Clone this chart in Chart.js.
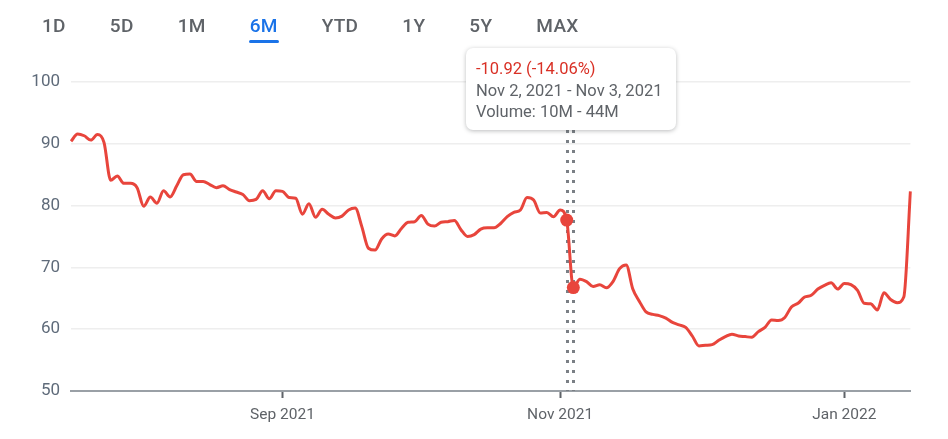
<!DOCTYPE html>
<html>
<head>
<meta charset="utf-8">
<script src="https://cdn.jsdelivr.net/npm/chart.js@4.4.0/dist/chart.umd.min.js"></script>
<style>
  body { margin: 0; background: #fff; font-family: Roboto, Arial, sans-serif; }
  #wrap { position: relative; width: 948px; height: 439px; }
  #tabs { position: absolute; left: 20px; top: 12px; display: flex; z-index: 2; }
  #tabs span {
    padding: 0 22px; font-size: 19px; font-weight: 500; color: #5f6368;
    line-height: 28px; position: relative; letter-spacing: 0.3px;
  }
  #tabs span.on { color: #1a73e8; }
  #tabs span.on::after {
    content: ""; position: absolute; left: 21px; right: 21px; top: 28px;
    height: 3px; border-radius: 2px; background: #1a73e8;
  }
  #tip {
    position: absolute; z-index: 3; width: 210px; height: 82px; box-sizing: border-box;
    padding: 10px 10px 0 10px; background: #fff; border-radius: 7px;
    box-shadow: 0 1px 4px rgba(60, 64, 67, 0.35);
    font-size: 16.5px; line-height: 21.5px; color: #5f6368; display: none;
  }
  #tip .chg { color: #d93025; }
</style>
</head>
<body>
<div id="wrap">
  <div id="tabs"></div>
  <div id="tip"></div>
  <canvas id="chart"></canvas>
</div>
<script>
// range tabs
const tabs = ["1D", "5D", "1M", "6M", "YTD", "1Y", "5Y", "MAX"];
const activeTab = "6M";

// trading days shown, per month (day of month)
const jul21 = [19, 20, 21, 22, 23, 26, 27, 28, 29, 30];
const aug21 = [2, 3, 4, 5, 6, 9, 10, 11, 12, 13, 16, 17, 18, 19, 20, 23, 24, 25, 26, 27, 30, 31];
const sep21 = [1, 2, 3, 7, 8, 9, 10, 13, 14, 15, 16, 17, 20, 21, 22, 23, 24, 27, 28, 29, 30];
const oct21 = [1, 4, 5, 6, 7, 8, 11, 12, 13, 14, 15, 18, 19, 20, 21, 22, 25, 26, 27, 28, 29];
const nov21 = [1, 2, 3, 4, 5, 8, 9, 10, 11, 12, 15, 16, 17, 18, 19, 22, 23, 24, 26, 29, 30];
const dec21 = [1, 2, 3, 6, 7, 8, 9, 10, 13, 14, 15, 16, 17, 20, 21, 22, 23, 27, 28, 29, 30, 31];
const jan22 = [3, 4, 5, 6, 7, 10, 11, 12, 13, 14, 18];

// closing price, per month
const julPrice = [90.4, 91.6, 91.3, 90.6, 91.5, 90.2, 84.1, 84.8, 83.6, 83.6];
const augPrice = [82.9, 79.9, 81.4, 80.4, 82.4, 81.4, 83.2, 85.0, 85.1, 83.9, 83.9, 83.4, 82.9, 83.2, 82.6, 82.2, 81.8, 80.8, 81.0, 82.4, 81.1, 82.4];
const sepPrice = [82.3, 81.3, 81.2, 78.6, 80.3, 78.1, 79.4, 78.6, 78.0, 78.3, 79.3, 79.6, 76.6, 73.1, 72.8, 74.6, 75.4, 75.1, 76.3, 77.3, 77.4];
const octPrice = [78.4, 77.0, 76.7, 77.3, 77.4, 77.6, 76.1, 75.0, 75.3, 76.2, 76.4, 76.4, 77.1, 78.2, 78.9, 79.3, 81.3, 80.9, 78.8, 78.9, 78.2];
const novPrice = [79.3, 77.66, 66.74, 68.1, 67.7, 66.9, 67.2, 66.7, 67.7, 69.8, 70.4, 66.5, 64.5, 62.8, 62.4, 62.2, 61.8, 61.1, 60.7, 60.3, 58.9];
const decPrice = [57.3, 57.4, 57.5, 58.2, 58.8, 59.2, 58.9, 58.8, 58.7, 59.6, 60.3, 61.5, 61.4, 61.9, 63.6, 64.2, 65.2, 65.5, 66.5, 67.1, 67.5, 66.5];
const janPrice = [67.4, 67.2, 66.3, 64.2, 64.1, 63.1, 65.9, 64.8, 64.3, 65.2, 82.3];

// x-axis labels at the first trading day of these months
const axisLabels = { "2021-09-01": "Sep 2021", "2021-11-01": "Nov 2021", "2022-01-03": "Jan 2022" };
const yTicks = [50, 60, 70, 80, 90, 100];

// selected range (hover)
const rangeFrom = "2021-11-02";
const rangeTo = "2021-11-03";
const tipLines = ["-10.92 (-14.06%)", "Nov 2, 2021 - Nov 3, 2021", "Volume: 10M - 44M"];

const months = [
  ["2021-07", jul21, julPrice], ["2021-08", aug21, augPrice], ["2021-09", sep21, sepPrice],
  ["2021-10", oct21, octPrice], ["2021-11", nov21, novPrice], ["2021-12", dec21, decPrice],
  ["2022-01", jan22, janPrice]
];
const dates = [];
const prices = [];
months.forEach(([m, days, vals]) => {
  days.forEach((d, i) => {
    dates.push(m + "-" + String(d).padStart(2, "0"));
    prices.push(vals[i]);
  });
});
const fromIdx = dates.indexOf(rangeFrom);
const toIdx = dates.indexOf(rangeTo);

// tabs
const tabsEl = document.getElementById("tabs");
tabs.forEach((t) => {
  const s = document.createElement("span");
  s.textContent = t;
  if (t === activeTab) s.className = "on";
  tabsEl.appendChild(s);
});

const RED = "#e8453c";
const TIP_TOP = 48;
const TIP_H = 82;
const TIP_W = 210;

const rangePlugin = {
  id: "rangeLines",
  beforeDatasetsDraw(chart) {
    const { ctx, chartArea, scales } = chart;
    ctx.save();
    ctx.strokeStyle = "#7a7f85";
    ctx.lineWidth = 3;
    ctx.setLineDash([3, 7]);
    [fromIdx, toIdx].forEach((i) => {
      const x = Math.round(scales.x.getPixelForValue(i)) + 0.5;
      ctx.beginPath();
      ctx.moveTo(x, TIP_TOP + TIP_H);
      ctx.lineTo(x, chartArea.bottom);
      ctx.stroke();
    });
    ctx.restore();
  },
  afterDraw(chart) {
    const tip = document.getElementById("tip");
    const x1 = chart.scales.x.getPixelForValue(fromIdx);
    const x2 = chart.scales.x.getPixelForValue(toIdx);
    tip.innerHTML =
      '<div class="chg">' + tipLines[0] + "</div><div>" + tipLines[1] + "</div><div>" + tipLines[2] + "</div>";
    tip.style.left = Math.round((x1 + x2) / 2 - TIP_W / 2 + 1) + "px";
    tip.style.top = TIP_TOP + "px";
    tip.style.display = "block";
  },
};

new Chart(document.getElementById("chart"), {
  type: "line",
  data: {
    labels: dates,
    datasets: [
      {
        data: prices,
        borderColor: RED,
        borderWidth: 3,
        fill: false,
        cubicInterpolationMode: "monotone",
        pointRadius: (c) => (c.dataIndex === fromIdx || c.dataIndex === toIdx ? 6.5 : 0),
        pointBackgroundColor: RED,
        pointBorderWidth: 0,
        pointHoverRadius: 0,
      },
    ],
  },
  options: {
    responsive: true,
    maintainAspectRatio: false,
    animation: false,
    events: [],
    layout: { padding: { top: 82, right: 37.6, left: 0, bottom: 0 } },
    plugins: { legend: { display: false }, tooltip: { enabled: false } },
    scales: {
      x: {
        afterFit: (s) => { s.height = 48; },
        border: { display: true, color: "#9aa0a6", width: 2 },
        grid: { drawOnChartArea: false, color: "#5f6368", tickLength: 7, tickWidth: 2 },
        ticks: {
          autoSkip: false,
          maxRotation: 0,
          padding: 8,
          color: "#5f6368",
          font: { family: "Roboto", size: 15.5 },
          callback: function (v, i) {
            return axisLabels[dates[i]] || null;
          },
        },
      },
      y: {
        min: 50,
        max: 100,
        afterFit: (s) => { s.width = 71; },
        afterBuildTicks: (s) => { s.ticks = yTicks.map((v) => ({ value: v })); },
        border: { display: false },
        grid: { color: "#eeeeee", lineWidth: 1.5, drawTicks: false },
        ticks: {
          padding: 11,
          color: "#5f6b7a",
          font: { family: "Roboto", size: 17 },
        },
      },
    },
  },
  plugins: [rangePlugin],
});
</script>
</body>
</html>
